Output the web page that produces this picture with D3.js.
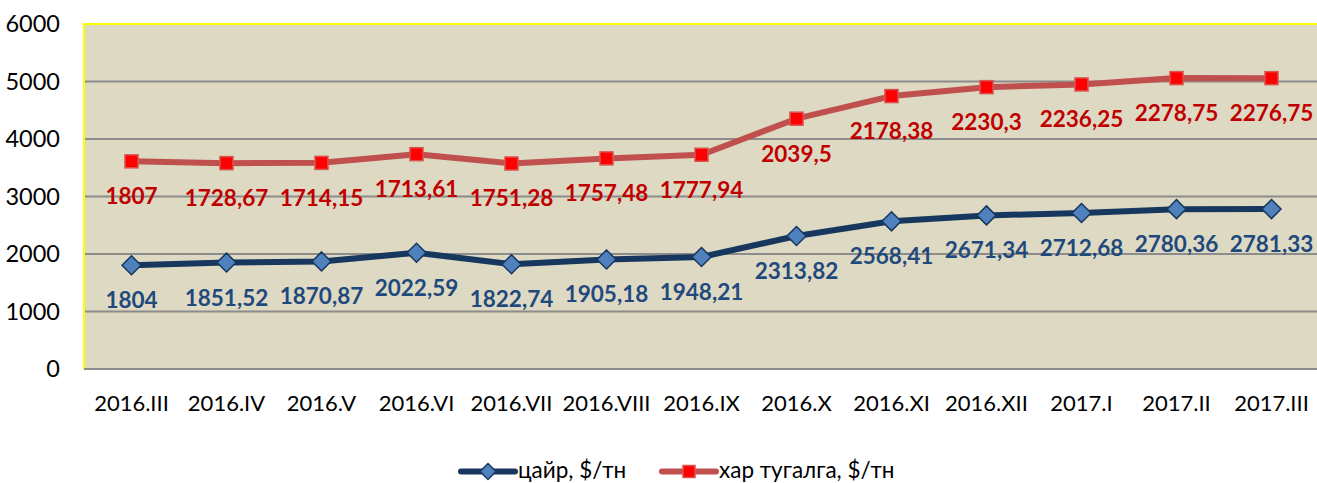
<!DOCTYPE html>
<html><head><meta charset="utf-8">
<script src="https://cdn.jsdelivr.net/npm/d3@7/dist/d3.min.js"></script>
<style>body{margin:0;background:#fff;}svg{display:block;font-family:Lato,"Open Sans",sans-serif;}</style>
</head><body>
<svg id="c" width="1317" height="483"></svg>
<script>
const categories = ["2016.III","2016.IV","2016.V","2016.VI","2016.VII","2016.VIII","2016.IX","2016.X","2016.XI","2016.XII","2017.I","2017.II","2017.III"];
const zinc = [1804,1851.52,1870.87,2022.59,1822.74,1905.18,1948.21,2313.82,2568.41,2671.34,2712.68,2780.36,2781.33];
const lead = [1807,1728.67,1714.15,1713.61,1751.28,1757.48,1777.94,2039.5,2178.38,2230.3,2236.25,2278.75,2276.75];
const yTicks = [0,1000,2000,3000,4000,5000,6000];
const seriesNames = ["цайр, $/тн","хар тугалга, $/тн"];

const svg = d3.select("#c");
const L = 84, T = 24, B = 369, R = 84 + 13*95;
const x = d3.scaleBand().domain(categories).range([L, R]);
const y = d3.scaleLinear().domain([0,6000]).range([B, T]);
const cx = d => x(d) + x.bandwidth()/2;
const fmt = v => String(v).replace(".", ",");

// plot background
svg.append("rect").attr("x",L).attr("y",T).attr("width",R-L).attr("height",B-T).attr("fill","#DDD9C3");
// gridlines
svg.append("g").selectAll("line").data(yTicks.filter(t=>t>0&&t<6000)).join("line")
  .attr("x1",L).attr("x2",R).attr("y1",d=>y(d)).attr("y2",d=>y(d))
  .attr("stroke","#8C8C8C").attr("stroke-width",2);
// border (yellow)
svg.append("path").attr("d",`M${L},${B}V${T}H${R}V${B}`).attr("fill","none").attr("stroke","#FFFF00").attr("stroke-width",2);
// bottom axis line
svg.append("line").attr("x1",L).attr("x2",R).attr("y1",B).attr("y2",B).attr("stroke","#8C8C8C").attr("stroke-width",2);

// y axis labels
const yAxis = d3.axisLeft(y).tickValues(yTicks).tickFormat(d3.format("d")).tickSize(0).tickPadding(24);
const gy = svg.append("g").attr("transform",`translate(${L},0)`).call(yAxis);
gy.select(".domain").remove();
gy.selectAll("text").attr("font-size",23.5).attr("fill","#000").attr("font-family","Lato");

// x axis labels
const xAxis = d3.axisBottom(x).tickSize(0).tickPadding(0);
const gx = svg.append("g").attr("transform",`translate(0,${B})`).call(xAxis);
gx.select(".domain").remove();
gx.selectAll("text").attr("font-size",22).attr("fill","#000").attr("font-family","Lato").attr("dy",null).attr("y",41.5);

const stacked = lead.map((v,i)=>v+zinc[i]);
const line = d3.line().x(d=>cx(d.c)).y(d=>y(d.v));

const zData = categories.map((c,i)=>({c,v:zinc[i],lab:zinc[i]}));
const lData = categories.map((c,i)=>({c,v:stacked[i],lab:lead[i]}));

// lines
svg.append("path").datum(lData).attr("d",line).attr("fill","none").attr("stroke","#C0504D").attr("stroke-width",6).attr("stroke-linejoin","round");
svg.append("path").datum(zData).attr("d",line).attr("fill","none").attr("stroke","#17375E").attr("stroke-width",6).attr("stroke-linejoin","round");

// markers
const diamond = (px,py,r) => `M${px},${py-r}L${px+r},${py}L${px},${py+r}L${px-r},${py}Z`;
svg.append("g").selectAll("path").data(zData).join("path")
  .attr("d",d=>diamond(cx(d.c),y(d.v),9.5)).attr("fill","#4F81BD").attr("stroke","#17375E").attr("stroke-width",1.5);
svg.append("g").selectAll("rect").data(lData).join("rect")
  .attr("x",d=>cx(d.c)-6.5).attr("y",d=>y(d.v)-6.5).attr("width",13).attr("height",13)
  .attr("fill","#FF0000").attr("stroke","#D9534F").attr("stroke-width",1.5);

// labels
svg.append("g").selectAll("text").data(lData).join("text")
  .attr("x",d=>cx(d.c)).attr("y",d=>y(d.v)+43).attr("text-anchor","middle")
  .attr("font-size",22.5).attr("font-weight","bold").attr("fill","#C00000").text(d=>fmt(d.lab));
svg.append("g").selectAll("text").data(zData).join("text")
  .attr("x",d=>cx(d.c)).attr("y",d=>y(d.v)+43).attr("text-anchor","middle")
  .attr("font-size",22.5).attr("font-weight","bold").attr("fill","#1F497D").text(d=>fmt(d.lab));

// legend
const leg = svg.append("g");
const items = [
  {name:seriesNames[0], x0:461, stroke:"#17375E", type:"d"},
  {name:seriesNames[1], x0:662, stroke:"#C0504D", type:"s"}
];
items.forEach(it=>{
  const ly = 471.5;
  leg.append("line").attr("x1",it.x0).attr("x2",it.x0+54).attr("y1",ly).attr("y2",ly).attr("stroke",it.stroke).attr("stroke-width",6).attr("stroke-linecap","round");
  if(it.type==="d") leg.append("path").attr("d",diamond(it.x0+27,ly,8)).attr("fill","#4F81BD").attr("stroke","#17375E").attr("stroke-width",1.5);
  else leg.append("rect").attr("x",it.x0+27-6).attr("y",ly-6).attr("width",12).attr("height",12).attr("fill","#FF0000").attr("stroke","#D9534F").attr("stroke-width",1.5);
  leg.append("text").attr("x",it.x0+57).attr("y",477.5).attr("font-size",22.5).attr("fill","#000").text(it.name);
});
</script>
</body></html>
